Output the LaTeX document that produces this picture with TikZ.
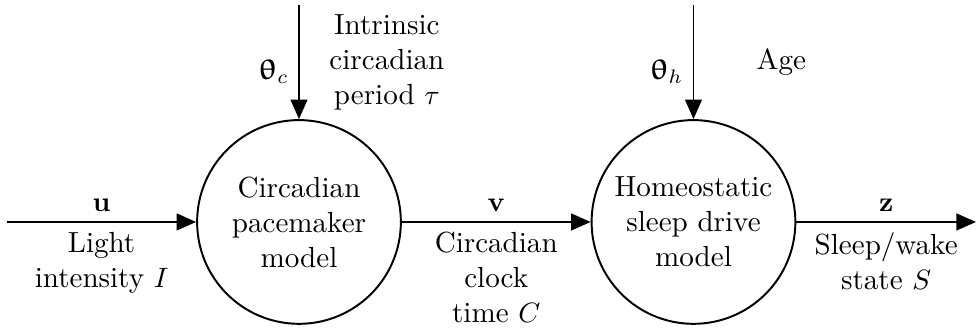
\documentclass[tikz,border=0pt]{standalone}
\usepackage{amsmath,amssymb,bm}
\usepackage[Euler]{upgreek}
\usetikzlibrary{arrows.meta,positioning}

\begin{document}
\begin{tikzpicture}[
  >={Triangle[length=7pt,width=6pt]},
  line width=0.7pt,
  every node/.style={font=\fontsize{10.4}{12.5}\selectfont},
  model/.style={circle,draw,minimum size=2.56cm,align=center,inner sep=0pt},
]
  \useasboundingbox (-3.757,-1.344) rectangle (8.507,2.789);

  \node[model] (circ) at (0,0)     {Circadian\\pacemaker\\model};
  \node[model] (home) at (4.957,0) {Homeostatic\\sleep drive\\model};

  \coordinate (lightin)  at (-3.669,0);
  \coordinate (circtop)  at (0,2.727);
  \coordinate (hometop)  at (4.957,2.727);
  \coordinate (sleepout) at (8.507,0);

  \tikzset{lb/.style={align=center,text width=1.95cm}}

  \draw[->] (lightin) -- node[above]{$\mathbf{u}$}
        node[lb,below]{Light\\intensity $I$} (circ);
  \draw[->] (circ) -- node[above]{$\mathbf{v}$}
        node[lb,below]{Circadian\\clock\\time $C$} (home);
  \draw[->] (home) -- node[above]{$\mathbf{z}$}
        node[lb,below]{Sleep/wake\\state $S$} (sleepout);
  \draw[->] (circtop) -- node[left,pos=0.58]{$\bm{\uptheta}_c$}
        node[lb,right]{Intrinsic\\circadian\\period $\tau$} (circ);
  \draw[->] (hometop) -- node[left,pos=0.58]{$\bm{\uptheta}_h$}
        node[lb,right]{Age} (home);
\end{tikzpicture}
\end{document}
